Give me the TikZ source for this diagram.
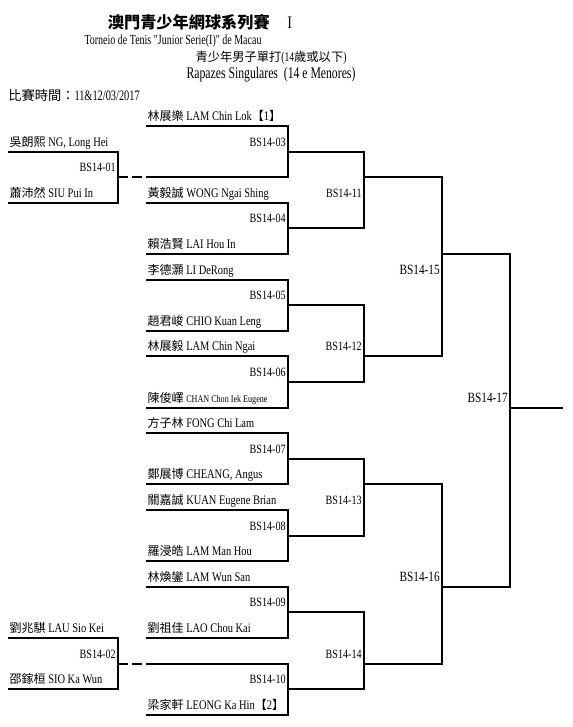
\documentclass[tikz,border=0pt]{standalone}
\usepackage{fontspec}
\setmainfont{Liberation Serif}[FakeStretch=0.8]
\newfontfamily\headfont{Liberation Serif}[FakeStretch=0.72]
\newfontfamily\cjkfont{Noto Sans CJK TC}[Scale=0.92]
\newcommand{\zh}[1]{{\cjkfont #1}}
\usepackage{tikz}

\begin{document}
\begin{tikzpicture}[x=0.75pt,y=-0.75pt,
  player/.style={anchor=south west,inner xsep=1pt,inner ysep=1.2pt,
                 text height=7pt,text depth=2.5pt,font=\fontsize{9.8}{11}\selectfont},
  match/.style={anchor=south east,inner xsep=1.5pt,inner ysep=1.2pt,
                text height=7pt,text depth=2.5pt,font=\fontsize{9.5}{11}\selectfont},
  bigmatch/.style={match,font=\fontsize{10.6}{12}\selectfont},
  heading/.style={inner sep=0pt},
  bline/.style={line width=1.6pt},
  link/.style={line width=1.3pt},
  feed/.style={line width=1.6pt,dash pattern=on 7.5pt off 3pt}
]
\useasboundingbox (0,0) rectangle (572,727);

\node[heading,font=\fontsize{13.2}{15}\selectfont] (title) at (200,22) {\zh{\bfseries 澳門青少年網球系列賽}\quad I};
\node[heading,font=\headfont\fontsize{10.4}{12}\selectfont] (torneio) at (173,41) {Torneio de Tenis \char34 Junior Serie(I)\char34{} de Macau};
\node[heading,font=\headfont\fontsize{10}{12}\selectfont] (event) at (271,58) {\zh{青少年男子單打}(14\zh{歲或以下})};
\node[heading,font=\headfont\fontsize{12.2}{13}\selectfont] (eventpt) at (271,75) {Rapazes Singulares\ \ (14 e Menores)};
\node[heading,anchor=west,font=\headfont\fontsize{10.8}{12}\selectfont] (date) at (8,95) {\zh{比賽時間：}11\&12/03/2017};

\node[player] (ng) at (8,152) {\zh{吳朗熙} NG, Long Hei};
\node[player] (siu) at (8,203) {\zh{蕭沛然} SIU Pui In};
\node[player] (lau) at (8,638) {\zh{劉兆騏} LAU Sio Kei};
\node[player] (sio) at (8,689) {\zh{邵鎵桓} SIO Ka Wun};

\node[player] (lamcl) at (146,126) {\zh{林展樂} LAM Chin Lok\zh{【}1\zh{】}};
\coordinate (bye03) at (146,177);
\node[player] (wong) at (146,203) {\zh{黃毅誠} WONG Ngai Shing};
\node[player] (lai) at (146,254) {\zh{賴浩賢} LAI Hou In};
\node[player] (li) at (146,280) {\zh{李德灝} LI DeRong};
\node[player] (chio) at (146,331) {\zh{趙君峻} CHIO Kuan Leng};
\node[player] (lamcn) at (146,356) {\zh{林展毅} LAM Chin Ngai};
\node[player] (chan) at (146,408) {\zh{陳俊嶧} {\fontsize{7.6}{9}\selectfont CHAN Chon Iek Eugene}};
\node[player] (fong) at (146,433) {\zh{方子林} FONG Chi Lam};
\node[player] (cheang) at (146,484) {\zh{鄭展博} CHEANG, Angus};
\node[player] (kuan) at (146,510) {\zh{關嘉誠} KUAN Eugene Brian};
\node[player] (lammh) at (146,561) {\zh{羅浸皓} LAM Man Hou};
\node[player] (lamws) at (146,587) {\zh{林煥鑾} LAM Wun San};
\node[player] (lao) at (146,638) {\zh{劉祖佳} LAO Chou Kai};
\coordinate (bye10) at (146,664);
\node[player] (leong) at (146,715) {\zh{梁家軒} LEONG Ka Hin\zh{【}2\zh{】}};

\node[match] (m01) at (118,177) {BS14-01};
\node[match] (m02) at (118,664) {BS14-02};
\node[match] (m03) at (288,152) {BS14-03};
\node[match] (m04) at (288,228) {BS14-04};
\node[match] (m05) at (288,305) {BS14-05};
\node[match] (m06) at (288,382) {BS14-06};
\node[match] (m07) at (288,459) {BS14-07};
\node[match] (m08) at (288,536) {BS14-08};
\node[match] (m09) at (288,612) {BS14-09};
\node[match] (m10) at (288,689) {BS14-10};
\node[match] (m11) at (364,203) {BS14-11};
\node[match] (m12) at (364,356) {BS14-12};
\node[match] (m13) at (364,510) {BS14-13};
\node[match] (m14) at (364,664) {BS14-14};
\node[bigmatch] (m15) at (442,280) {BS14-15};
\node[bigmatch] (m16) at (442,587) {BS14-16};
\node[bigmatch] (m17) at (510,408) {BS14-17};
\coordinate (w11) at (364,177);
\coordinate (w13) at (364,484);
\coordinate (w15) at (442,254);
\coordinate (champ) at (563,408);

\draw[bline] (ng.south west) -| (m01.south east) |- (siu.south west);
\draw[bline] (lau.south west) -| (m02.south east) |- (sio.south west);
\draw[feed] (m01.south east) -- (bye03);
\draw[feed] (m02.south east) -- (bye10);
\draw[bline] (lamcl.south west) -| (m03.south east) |- (bye03);
\draw[bline] (wong.south west) -| (m04.south east) |- (lai.south west);
\draw[bline] (li.south west) -| (m05.south east) |- (chio.south west);
\draw[bline] (lamcn.south west) -| (m06.south east) |- (chan.south west);
\draw[bline] (fong.south west) -| (m07.south east) |- (cheang.south west);
\draw[bline] (kuan.south west) -| (m08.south east) |- (lammh.south west);
\draw[bline] (lamws.south west) -| (m09.south east) |- (lao.south west);
\draw[bline] (bye10) -| (m10.south east) |- (leong.south west);
\draw[link] (m03.south east) -| (m11.south east) |- (m04.south east);
\draw[link] (m05.south east) -| (m12.south east) |- (m06.south east);
\draw[link] (m07.south east) -| (m13.south east) |- (m08.south east);
\draw[link] (m09.south east) -| (m14.south east) |- (m10.south east);
\draw[link] (w11) -| (m15.south east) |- (m12.south east);
\draw[link] (w13) -| (m16.south east) |- (m14.south east);
\draw[link] (w15) -| (m17.south east) |- (m16.south east);
\draw[link] (m17.south east) -- (champ);
\end{tikzpicture}
\end{document}
